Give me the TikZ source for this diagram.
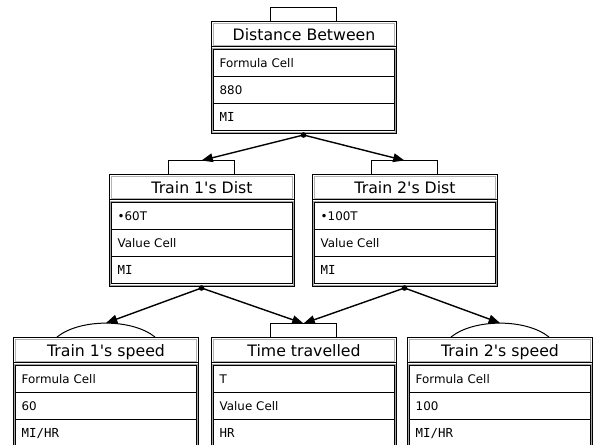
\documentclass[tikz,border=0pt]{standalone}
\usepackage{fontspec}
\setmainfont{DejaVu Sans}
\setmonofont{DejaVu Sans Mono}
\usetikzlibrary{arrows.meta}
\tikzset{
  frame/.style={draw=black, line width=0.75pt, inner sep=0pt, minimum width=138.75pt, minimum height=84pt, anchor=north west},
  titlebox/.style={draw=gray!60, line width=0.8pt, inner sep=0pt, minimum width=135.75pt, minimum height=16.5pt, anchor=north west, text height=8.6pt, text depth=0pt, font=\fontsize{11.8}{13}\selectfont},
  rowcell/.style={draw=black, line width=1.05pt, inner xsep=4.5pt, inner ysep=0pt, text width=126.75pt, align=left, minimum height=20.25pt, anchor=north west, text height=6.5pt, text depth=0pt, font=\fontsize{8.9}{10}\selectfont},
  unitcell/.style={rowcell, font=\fontsize{9.3}{10}\ttfamily},
  sepline/.style={draw=black, line width=0.75pt},
  ringline/.style={draw=gray!70, line width=0.6pt},
  tabline/.style={draw=black, line width=0.75pt},
  conn/.style={draw=black, line width=1.05pt, -{Triangle[length=8.5pt,width=6.5pt]}},
  dotmark/.style={fill=black}
}
\newcommand{\databox}[7]{%
  \node[frame] (#1) at (#2,#3) {};
  \node[titlebox] (#1-title) at (#2+2,#3+2) {#4};
  \draw[sepline] (#2,#3+26) -- (#2+185,#3+26);
  \draw[ringline] (#2+1,#3+27) rectangle (#2+184,#3+111);
  \node[rowcell] (#1-a) at (#2+2,#3+28) {#5};
  \node[rowcell] (#1-b) at (#2+2,#3+55) {#6};
  \node[unitcell] (#1-c) at (#2+2,#3+82) {#7};
  \coordinate (#1-dot) at (#2+92.5,#3+114);
}
\newcommand{\tabon}[3]{% name, L, T
  \draw[tabline] (#2+59.5,#3) -- (#2+59.5,#3-13.5) -- (#2+125.5,#3-13.5) -- (#2+125.5,#3);
  \coordinate (#1-in) at (#2+92.5,#3-13.5);
}
\newcommand{\arcon}[3]{% name, L, T
  \draw[tabline] (#2+44,#3) .. controls (#2+67,#3-18.5) and (#2+119,#3-18.5) .. (#2+142,#3);
  \coordinate (#1-in) at (#2+93,#3-14);
}
\begin{document}
\begin{tikzpicture}[x=0.75pt,y=-0.75pt]
\useasboundingbox (0,0) rectangle (600,445);
\clip (0,0) rectangle (600,445);
\databox{dist}{211}{21}{Distance Between}{Formula Cell}{880}{MI}
\tabon{dist}{211}{21}
\databox{tonedist}{109}{174}{Train 1\textquotesingle s Dist}{•60T}{Value Cell}{MI}
\tabon{tonedist}{109}{174}
\databox{ttwodist}{312}{174}{Train 2\textquotesingle s Dist}{•100T}{Value Cell}{MI}
\tabon{ttwodist}{312}{174}
\databox{tonespeed}{13}{337}{Train 1\textquotesingle s speed}{Formula Cell}{60}{MI/HR}
\arcon{tonespeed}{13}{337}
\databox{ttime}{211}{337}{Time travelled}{T}{Value Cell}{HR}
\tabon{ttime}{211}{337}
\databox{ttwospeed}{407}{337}{Train 2\textquotesingle s speed}{Formula Cell}{100}{MI/HR}
\arcon{ttwospeed}{407}{337}
\foreach \n in {dist,tonedist,ttwodist}{\fill[dotmark] (\n-dot) circle (2.1pt);}
\draw[conn] (dist-dot) -- (tonedist-in);
\draw[conn] (dist-dot) -- (ttwodist-in);
\draw[conn] (tonedist-dot) -- (tonespeed-in);
\draw[conn] (tonedist-dot) -- (ttime-in);
\draw[conn] (ttwodist-dot) -- (ttime-in);
\draw[conn] (ttwodist-dot) -- (ttwospeed-in);
\end{tikzpicture}
\end{document}
